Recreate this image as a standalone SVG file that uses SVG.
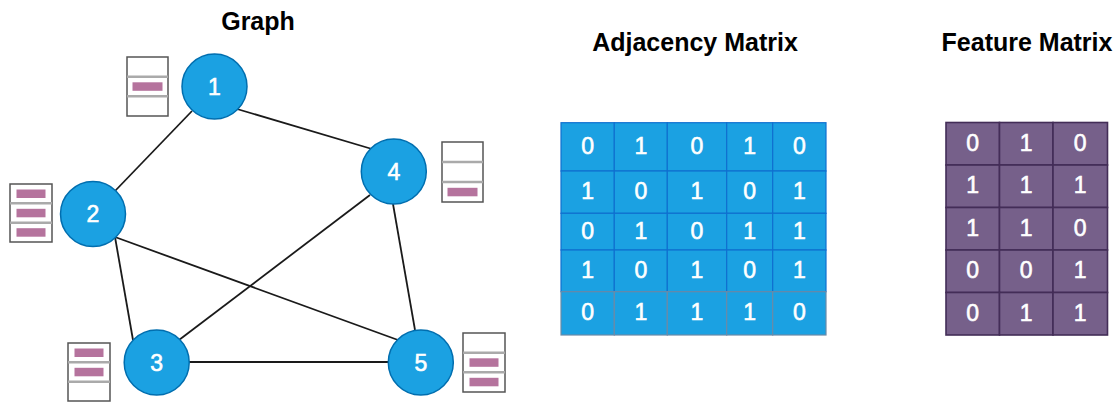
<svg xmlns="http://www.w3.org/2000/svg" width="1120" height="402" viewBox="0 0 1120 402">
<style>
.title{font-family:"Liberation Sans",Arial,sans-serif;font-weight:bold;font-size:25px;fill:#000;text-anchor:middle}
.node circle{fill:#1BA1E2;stroke:#006EAF;stroke-width:1.5}
.node text,.cell{font-family:"Liberation Sans",Arial,sans-serif;font-size:23px;fill:#fff;stroke:#fff;stroke-width:0.6;text-anchor:middle}
.edge{stroke:#1a1a1a;stroke-width:1.8;fill:none}
.fbox{fill:#fff;stroke:#555;stroke-width:1.5}
.fsep{stroke:#aaa;stroke-width:2.5}
.bar{fill:#B5739D}
.adj rect{fill:#1BA1E2;stroke:#1070D0;stroke-width:1.2}
.adj rect.last{stroke:#6A8BA8}
.feat rect{fill:#76608A;stroke:#432D57;stroke-width:1.6}
</style>
<rect width="1120" height="402" fill="#fff"/>
<text class="title" x="258" y="30">Graph</text>
<text class="title" x="695" y="51">Adjacency Matrix</text>
<text class="title" x="1027" y="51">Feature Matrix</text>

<g id="connectors">
<line class="edge" x1="192" y1="111" x2="115" y2="191"/>
<line class="edge" x1="237" y1="109" x2="372" y2="149"/>
<line class="edge" x1="370" y1="195" x2="179" y2="340"/>
<line class="edge" x1="393" y1="204" x2="415" y2="330"/>
<line class="edge" x1="189" y1="362" x2="388" y2="362"/>
<line class="edge" x1="115" y1="237" x2="398" y2="340"/>
<line class="edge" x1="115" y1="237" x2="133" y2="340"/>
</g>

<g id="node1" class="node"><circle cx="214.5" cy="86.5" r="32.5"/><text x="214.5" y="94.5">1</text></g>
<g id="node2" class="node"><circle cx="93" cy="214" r="32.5"/><text x="93" y="222">2</text></g>
<g id="node3" class="node"><circle cx="156.7" cy="362.5" r="32.5"/><text x="156.7" y="370.5">3</text></g>
<g id="node4" class="node"><circle cx="393.8" cy="171.5" r="32.5"/><text x="393.8" y="179.5">4</text></g>
<g id="node5" class="node"><circle cx="420.8" cy="362.5" r="32.5"/><text x="420.8" y="370.5">5</text></g>

<g id="feat1">
<rect class="fbox" x="127" y="57" width="41" height="59"/>
<line class="fsep" x1="127" y1="76.7" x2="168" y2="76.7"/><line class="fsep" x1="127" y1="96.3" x2="168" y2="96.3"/>
<rect class="bar" x="132.5" y="82.3" width="30" height="8.5"/>
</g>
<g id="feat2">
<rect class="fbox" x="10" y="184" width="42" height="58"/>
<line class="fsep" x1="10" y1="203.3" x2="52" y2="203.3"/><line class="fsep" x1="10" y1="222.7" x2="52" y2="222.7"/>
<rect class="bar" x="16.5" y="189.5" width="29" height="8.5"/>
<rect class="bar" x="16.5" y="208.8" width="29" height="8.5"/>
<rect class="bar" x="16.5" y="228.2" width="29" height="8.5"/>
</g>
<g id="feat4">
<rect class="fbox" x="442" y="142" width="41" height="60"/>
<line class="fsep" x1="442" y1="162" x2="483" y2="162"/><line class="fsep" x1="442" y1="182" x2="483" y2="182"/>
<rect class="bar" x="447.5" y="187.8" width="30" height="8.5"/>
</g>
<g id="feat3">
<rect class="fbox" x="68" y="343" width="42" height="58"/>
<line class="fsep" x1="68" y1="362.3" x2="110" y2="362.3"/><line class="fsep" x1="68" y1="381.7" x2="110" y2="381.7"/>
<rect class="bar" x="74.5" y="348.5" width="29" height="8.5"/>
<rect class="bar" x="74.5" y="367.8" width="29" height="8.5"/>
</g>
<g id="feat5">
<rect class="fbox" x="463" y="333" width="42" height="59"/>
<line class="fsep" x1="463" y1="352.7" x2="505" y2="352.7"/><line class="fsep" x1="463" y1="372.3" x2="505" y2="372.3"/>
<rect class="bar" x="469.5" y="358.3" width="29" height="8.5"/>
<rect class="bar" x="469.5" y="377.8" width="29" height="8.5"/>
</g>

<g id="adjacency-matrix" class="adj">
<rect x="561" y="122.7" width="53.3" height="48.3"/><rect x="614.3" y="122.7" width="53" height="48.3"/><rect x="667.3" y="122.7" width="59.4" height="48.3"/><rect x="726.7" y="122.7" width="46" height="48.3"/><rect x="772.7" y="122.7" width="53.3" height="48.3"/>
<rect x="561" y="171" width="53.3" height="42.3"/><rect x="614.3" y="171" width="53" height="42.3"/><rect x="667.3" y="171" width="59.4" height="42.3"/><rect x="726.7" y="171" width="46" height="42.3"/><rect x="772.7" y="171" width="53.3" height="42.3"/>
<rect x="561" y="213.3" width="53.3" height="36.7"/><rect x="614.3" y="213.3" width="53" height="36.7"/><rect x="667.3" y="213.3" width="59.4" height="36.7"/><rect x="726.7" y="213.3" width="46" height="36.7"/><rect x="772.7" y="213.3" width="53.3" height="36.7"/>
<rect x="561" y="250" width="53.3" height="41.7"/><rect x="614.3" y="250" width="53" height="41.7"/><rect x="667.3" y="250" width="59.4" height="41.7"/><rect x="726.7" y="250" width="46" height="41.7"/><rect x="772.7" y="250" width="53.3" height="41.7"/>
<rect class="last" x="561" y="291.7" width="53.3" height="43.3"/><rect class="last" x="614.3" y="291.7" width="53" height="43.3"/><rect class="last" x="667.3" y="291.7" width="59.4" height="43.3"/><rect class="last" x="726.7" y="291.7" width="46" height="43.3"/><rect class="last" x="772.7" y="291.7" width="53.3" height="43.3"/>
<g>
<text class="cell" x="587.7" y="153.5">0</text><text class="cell" x="640.8" y="153.5">1</text><text class="cell" x="697" y="153.5">0</text><text class="cell" x="749.7" y="153.5">1</text><text class="cell" x="799.4" y="153.5">0</text>
<text class="cell" x="587.7" y="199">1</text><text class="cell" x="640.8" y="199">0</text><text class="cell" x="697" y="199">1</text><text class="cell" x="749.7" y="199">0</text><text class="cell" x="799.4" y="199">1</text>
<text class="cell" x="587.7" y="238.5">0</text><text class="cell" x="640.8" y="238.5">1</text><text class="cell" x="697" y="238.5">0</text><text class="cell" x="749.7" y="238.5">1</text><text class="cell" x="799.4" y="238.5">1</text>
<text class="cell" x="587.7" y="277.8">1</text><text class="cell" x="640.8" y="277.8">0</text><text class="cell" x="697" y="277.8">1</text><text class="cell" x="749.7" y="277.8">0</text><text class="cell" x="799.4" y="277.8">1</text>
<text class="cell" x="587.7" y="320.3">0</text><text class="cell" x="640.8" y="320.3">1</text><text class="cell" x="697" y="320.3">1</text><text class="cell" x="749.7" y="320.3">1</text><text class="cell" x="799.4" y="320.3">0</text>
</g>
</g>

<g id="feature-matrix" class="feat">
<rect x="946" y="122.5" width="53.5" height="42.5"/><rect x="999.5" y="122.5" width="53.5" height="42.5"/><rect x="1053" y="122.5" width="54.5" height="42.5"/>
<rect x="946" y="165" width="53.5" height="42.5"/><rect x="999.5" y="165" width="53.5" height="42.5"/><rect x="1053" y="165" width="54.5" height="42.5"/>
<rect x="946" y="207.5" width="53.5" height="42.5"/><rect x="999.5" y="207.5" width="53.5" height="42.5"/><rect x="1053" y="207.5" width="54.5" height="42.5"/>
<rect x="946" y="250" width="53.5" height="42.5"/><rect x="999.5" y="250" width="53.5" height="42.5"/><rect x="1053" y="250" width="54.5" height="42.5"/>
<rect x="946" y="292.5" width="53.5" height="42.5"/><rect x="999.5" y="292.5" width="53.5" height="42.5"/><rect x="1053" y="292.5" width="54.5" height="42.5"/>
<g>
<text class="cell" x="972.7" y="150.5">0</text><text class="cell" x="1026.2" y="150.5">1</text><text class="cell" x="1080.2" y="150.5">0</text>
<text class="cell" x="972.7" y="193">1</text><text class="cell" x="1026.2" y="193">1</text><text class="cell" x="1080.2" y="193">1</text>
<text class="cell" x="972.7" y="235.5">1</text><text class="cell" x="1026.2" y="235.5">1</text><text class="cell" x="1080.2" y="235.5">0</text>
<text class="cell" x="972.7" y="278">0</text><text class="cell" x="1026.2" y="278">0</text><text class="cell" x="1080.2" y="278">1</text>
<text class="cell" x="972.7" y="320.5">0</text><text class="cell" x="1026.2" y="320.5">1</text><text class="cell" x="1080.2" y="320.5">1</text>
</g>
</g>
</svg>
